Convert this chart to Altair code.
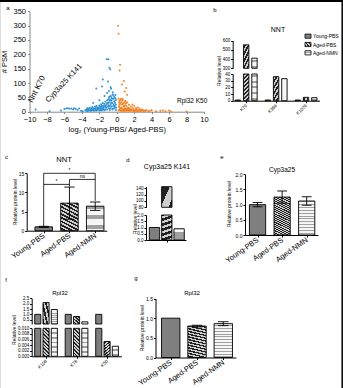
import altair as alt
import pandas as pd

W, H = 343, 388
FONT = "Liberation Sans"

# ---------------- data ----------------
treatments = ["Young-PBS", "Aged-PBS", "Aged-NMN"]

# panel a: (log2 fold change, #PSM)
blue_points = [
    (-9.3, 8), (-7.7, 2), (-6.4, 4), (-6.0, 9), (-5.8, 11), (-5.6, 12), (-5.4, 10), (-5.2, 11),
    (-5.0, 8), (-4.9, 12), (-4.7, 10), (-4.5, 6), (-4.3, 11), (-4.1, 3), (-3.9, 2),
    (-3.6, 4), (-3.5, 8), (-3.4, 12), (-3.3, 6), (-3.2, 10), (-3.1, 14), (-3.0, 8), (-2.9, 12),
    (-2.8, 16), (-2.7, 5), (-2.6, 10), (-2.5, 18), (-2.4, 13), (-2.3, 20), (-2.2, 7), (-2.1, 15),
    (-2.0, 22), (-1.9, 11), (-1.8, 26), (-1.7, 17), (-1.6, 30), (-1.5, 8), (-1.4, 22), (-1.3, 35),
    (-1.2, 14), (-1.1, 40), (-1.0, 28), (-0.9, 48), (-0.8, 20), (-0.7, 55), (-0.6, 38), (-0.5, 60),
    (-0.4, 45), (-0.3, 52), (-0.2, 30), (-0.15, 58),
    (-3.4, 2), (-3.0, 3), (-2.8, 6), (-2.6, 3), (-2.4, 5), (-2.2, 14), (-2.0, 4), (-1.9, 18),
    (-1.8, 9), (-1.7, 4), (-1.6, 13), (-1.5, 20), (-1.4, 5), (-1.3, 16), (-1.2, 26), (-1.1, 8),
    (-1.0, 18), (-1.0, 42), (-0.9, 12), (-0.9, 32), (-0.8, 38), (-0.8, 6), (-0.7, 25), (-0.7, 12),
    (-0.6, 50), (-0.6, 18), (-0.5, 30), (-0.5, 8), (-0.4, 20), (-0.4, 58), (-0.3, 12), (-0.3, 36),
    (-0.2, 48), (-0.2, 15), (-0.1, 25), (-0.1, 40), (-0.1, 6),
    (-3.2, 3), (-2.9, 7), (-2.7, 12), (-2.5, 10), (-2.3, 4), (-2.1, 9), (-1.9, 5), (-1.7, 22),
    (-1.5, 14), (-1.3, 8), (-1.1, 30), (-0.95, 22), (-0.85, 52), (-0.75, 42), (-0.65, 30),
    (-0.55, 45), (-0.45, 10), (-0.35, 25), (-0.25, 20), (-0.15, 45), (-0.05, 15), (-1.25, 20),
    (-1.45, 28), (-1.65, 9), (-1.85, 15), (-2.05, 12), (-2.25, 10), (-2.45, 8), (-2.65, 7),
    (-2.85, 4), (-3.05, 5), (-3.25, 7), (-3.45, 5),
    (-1.15, 183), (-0.95, 183), (-0.85, 153), (-0.75, 148), (-1.6, 112), (-1.0, 105), (-2.35, 81),
    (-1.7, 88), (-0.7, 85), (-0.65, 80), (-1.1, 65), (-0.9, 72), (-0.45, 68), (-1.4, 55),
    (-2.0, 40), (-2.7, 30),
]
orange_points = [
    (0.15, 300), (0.2, 272), (0.38, 164), (0.32, 144), (0.82, 107), (1.09, 83), (0.9, 70),
    (1.2, 59), (0.6, 95),
    (0.2, 45), (0.25, 20), (0.3, 38), (0.35, 8), (0.4, 30), (0.45, 42), (0.5, 15), (0.55, 35),
    (0.6, 25), (0.65, 5), (0.7, 40), (0.75, 18), (0.8, 30), (0.85, 10), (0.9, 22), (0.95, 35),
    (1.0, 12), (1.05, 28), (1.1, 20), (1.15, 6), (1.2, 32), (1.3, 15), (1.4, 24), (1.5, 10),
    (1.6, 18), (1.7, 6), (1.8, 14), (1.9, 9), (2.0, 20), (2.1, 4), (2.2, 12), (2.3, 8), (2.4, 15),
    (2.5, 5), (2.6, 10), (2.7, 3), (2.8, 8), (2.9, 4), (3.0, 6), (3.2, 3), (3.4, 5), (3.6, 2),
    (0.2, 5), (0.3, 15), (0.35, 25), (0.4, 3), (0.5, 44), (0.6, 10), (0.7, 28), (0.8, 2),
    (0.9, 8), (1.0, 38), (1.1, 3), (1.2, 10), (1.3, 4), (1.4, 8), (1.6, 3), (1.8, 25), (2.0, 2),
    (2.2, 3), (0.25, 32), (0.45, 12), (0.55, 3), (0.65, 45), (0.75, 6), (0.85, 20), (0.95, 3),
    (1.05, 10), (1.25, 5), (1.35, 12), (1.45, 3), (1.55, 7), (1.75, 4), (1.95, 3), (2.15, 6),
    (2.35, 2), (2.55, 3), (2.75, 2), (3.1, 2), (3.3, 4),
    (3.8, 3), (4.0, 5), (4.5, 2), (5.0, 3), (5.3, 4), (5.6, 2), (6.0, 4), (6.2, 1), (8.0, 1),
]

# panel b: NNT sites
b_sites = ["K70", "K394", "K1079"]
b_young = [1.0, 1.0, 1.0]
b_aged = [555, 36, 5]
b_nmn = [410, 33, 4.5]

# panel c: NNT protein
c_mean = [1.0, 7.2, 6.4]
c_err = [0.15, 4.2, 1.1]
c_br_from = [0, 1, 0]
c_br_to = [2, 2, 1]
c_br_level = [15.0, 13.4, 12.1]
c_br_label = ["*", "ns", "*"]
c_leg_pos = [0, 2, 1]
c_leg_top = [15.0, 15.0, 13.4]
c_leg_bottom = [1.2, 7.8, 11.6]

# panel d: Cyp3a25 K141
d_vals = [1.0, 145, 0.9]

# panel e: Cyp3a25 protein
e_mean = [1.0, 1.25, 1.12]
e_err = [0.07, 0.2, 0.14]

# panel f: Rpl32 sites
f_sites = ["K108", "K76", "K50"]
f_young = [1.0, 1.0, 1.0]
f_aged = [2.1, 0.8, 0.0053]
f_nmn = [1.45, 0.3, 0.0036]

# panel g: Rpl32 protein
g_mean = [1.0, 0.8, 0.86]
g_err = [0.0, 0.02, 0.05]

# ---------------- helpers ----------------
def stripes(c1, c2, n, frac, diag=False):
    stops = []
    for k in range(n):
        a = k / n
        m = (k + frac) / n
        b = (k + 1) / n
        stops += [{"offset": a, "color": c1}, {"offset": m, "color": c1},
                  {"offset": m, "color": c2}, {"offset": b, "color": c2}]
    return {"gradient": "linear", "x1": 0, "y1": 0, "x2": 1 if diag else 0, "y2": 1, "stops": stops}

YOUNG = "#7f7f7f"
CHECK = stripes("#222222", "#cfcfcf", 40, 0.5, diag=True)
STRIPE = stripes("#a0a0a0", "#f6f6f6", 22, 0.35)


def fill_enc():
    return (alt.when(alt.datum.treatment == "Aged-PBS").then(alt.value(CHECK))
            .when(alt.datum.treatment == "Aged-NMN").then(alt.value(STRIPE))
            .otherwise(alt.value(YOUNG)))


def xs(field, dom, rng, axis=None):
    return alt.X(field, type="quantitative",
                 scale=alt.Scale(domain=dom, range=rng, nice=False, zero=False), axis=axis)


def ys(field, dom, rng, axis=None, clamp=False):
    return alt.Y(field, type="quantitative",
                 scale=alt.Scale(domain=dom, range=rng, nice=False, zero=False, clamp=clamp), axis=axis)


def left_axis(x_px, values, fmt=None, size=5, color="black", title=None, **kw):
    d = dict(orient="left", offset=-x_px, values=values, grid=False, labelFontSize=size,
             labelFont=FONT, labelColor="black", tickSize=2, tickColor=color, domainColor=color,
             labelPadding=1, labelFlush=False, labelOverlap=False, title=title,
             titleFont=FONT, titleFontSize=size, titleFontWeight="normal", titleColor="black")
    if fmt:
        d["format"] = fmt
    d.update(kw)
    return alt.Axis(**d)


def bottom_axis(y_px, values, names=None, size=5, angle=0, color="black", title=None, labels=True, **kw):
    d = dict(orient="bottom", offset=y_px - H, values=values, grid=False, labelFontSize=size,
             labelFont=FONT, labelColor="black", tickSize=2, tickColor=color, domainColor=color,
             labelPadding=2, labelFlush=False, labelOverlap=False, title=title, labels=labels,
             titleFont=FONT, titleFontSize=size, titleFontWeight="normal", titleColor="black")
    if names is not None:
        d["labelExpr"] = "[" + ",".join("'%s'" % n for n in names) + "][datum.value]"
    if angle:
        d["labelAngle"] = angle
        d["labelAlign"] = "right"
        d["labelBaseline"] = "middle"
    d.update(kw)
    return alt.Axis(**d)


one = pd.DataFrame({"k": [0]})


def txt(s, x, y, size=6, angle=0, align="center", baseline="middle"):
    kw = dict(text=s, fontSize=size, font=FONT, align=align, baseline=baseline, color="black")
    if angle:
        kw["angle"] = angle
    return alt.Chart(one).mark_text(**kw).encode(x=alt.value(x), y=alt.value(y))


def simple_df(means, errs):
    return pd.DataFrame({"treatment": treatments, "i": [0, 1, 2], "mean": means, "err": errs})


def grouped_df(young, aged, nmn):
    rows = []
    for g in range(3):
        for t, vals in enumerate([young, aged, nmn]):
            rows.append({"treatment": treatments[t], "g": g, "t": t, "mean": vals[g]})
    return pd.DataFrame(rows)


def bars(df, xdom, xrng, ydom, yrng, xpos, hw, clamp=False, xaxis=None, yaxis=None, keep=None):
    ch = alt.Chart(df)
    if keep:
        ch = ch.transform_filter(keep)
    ch = ch.transform_calculate(xl=f"{xpos} - {hw}", xr=f"{xpos} + {hw}", base="0")
    return ch.mark_rect(stroke="black", strokeWidth=0.9).encode(
        x=xs("xl", xdom, xrng, xaxis), x2="xr:Q",
        y=ys("mean", ydom, yrng, yaxis, clamp), y2="base:Q", fill=fill_enc())


def errbars(df, xdom, xrng, ydom, yrng, cap):
    base = alt.Chart(df).transform_filter("datum.err > 0").transform_calculate(
        lo="datum.mean - datum.err", hi="datum.mean + datum.err",
        cl=f"datum.i - {cap}", cr=f"datum.i + {cap}")
    v = base.mark_rule(color="black", strokeWidth=0.9).encode(
        x=xs("i", xdom, xrng), y=ys("lo", ydom, yrng), y2="hi:Q")
    t = base.mark_rule(color="black", strokeWidth=0.9).encode(
        x=xs("cl", xdom, xrng), x2="cr:Q", y=ys("hi", ydom, yrng))
    b = base.mark_rule(color="black", strokeWidth=0.9).encode(
        x=xs("cl", xdom, xrng), x2="cr:Q", y=ys("lo", ydom, yrng))
    return [v, t, b]


layers = []

# ---------------- panel a ----------------
A_XD, A_XR = [-10, 10], [29.5, 204]
A_YD, A_YR = [0, 350], [111.7, 11.3]
blue_df = pd.DataFrame(blue_points, columns=["lfc", "psm"])
orange_df = pd.DataFrame(orange_points, columns=["lfc", "psm"])
ax_a_x = bottom_axis(111.7, list(range(-10, 11, 2)), size=7.5, color="#888",
                     title="log₂ (Young-PBS/ Aged-PBS)", titlePadding=2, labelPadding=2)
ax_a_y = left_axis(29.5, list(range(0, 351, 50)), size=7.5, color="#888", title="# PSM",
                   titlePadding=4, labelPadding=2)
layers.append(alt.Chart(blue_df).mark_circle(size=4, opacity=1, color="#2f93d4").encode(
    x=xs("lfc", A_XD, A_XR, ax_a_x), y=ys("psm", A_YD, A_YR, ax_a_y)))
layers.append(alt.Chart(orange_df).mark_circle(size=4, opacity=1, color="#f47f1f").encode(
    x=xs("lfc", A_XD, A_XR), y=ys("psm", A_YD, A_YR)))
layers += [
    txt("a", 8, 8, size=6),
    txt("Nnt K70", 34, 104, size=8, angle=297, align="left", baseline="bottom"),
    txt("Cyp3a25 K141", 50, 104, size=7.5, angle=313, align="left", baseline="bottom"),
    txt("Rpl32 K50", 177, 101, size=6.5, align="left", baseline="middle"),
]

# ---------------- panel b ----------------
b_df = grouped_df(b_young, b_aged, b_nmn)
B_XD, B_XR = [-0.45, 2.45], [232.7, 319.5]
bpos = "datum.g + (datum.t - 1) * 0.277"
layers.append(bars(b_df, B_XD, B_XR, [300, 600], [68.3, 40.7], bpos, 0.09, clamp=True,
                   yaxis=left_axis(232.7, [300, 400, 500, 600], size=4.5), keep="datum.mean > 300"))
layers.append(bars(b_df, B_XD, B_XR, [0, 40], [100.7, 74], bpos, 0.09, clamp=True,
                   xaxis=bottom_axis(100.7, [0, 1, 2], b_sites, size=4.5, angle=-45),
                   yaxis=left_axis(232.7, [0, 10, 20, 30, 40], size=4.5)))
legend_df = pd.DataFrame({"treatment": treatments})
leg_scale = alt.Scale(domain=treatments, range=[32, 57], paddingInner=0.5, paddingOuter=0.25)
layers.append(alt.Chart(legend_df).mark_rect(stroke="black", strokeWidth=0.8).encode(
    x=alt.value(305), x2=alt.value(311),
    y=alt.Y("treatment:N", scale=leg_scale, axis=None), fill=fill_enc()))
layers.append(alt.Chart(legend_df).mark_text(font=FONT, fontSize=5, align="left", baseline="middle",
                                             color="black").encode(
    x=alt.value(313), y=alt.Y("treatment:N", scale=leg_scale, axis=None), text="treatment:N"))
layers += [
    txt("b", 215, 10, size=6),
    txt("NNT", 278, 30, size=7),
    txt("Relative level", 219, 71, size=5, angle=270),
]

# ---------------- panel c ----------------
c_df = simple_df(c_mean, c_err)
C_XD, C_XR = [-0.66, 2.45], [26.7, 106.8]
C_YD, C_YR = [0, 15], [230.7, 173.3]
layers.append(bars(c_df, C_XD, C_XR, C_YD, C_YR, "datum.i", 0.34,
                   xaxis=bottom_axis(230.7, [0, 1, 2], treatments, size=7.5, angle=-35),
                   yaxis=left_axis(26.7, [0, 5, 10, 15], size=5)))
layers += errbars(c_df, C_XD, C_XR, C_YD, C_YR, 0.2)
br_df = pd.DataFrame({"a": c_br_from, "b": c_br_to, "lvl": c_br_level, "lab": c_br_label})
leg_df = pd.DataFrame({"p": c_leg_pos, "top": c_leg_top, "bot": c_leg_bottom})
layers.append(alt.Chart(br_df).mark_rule(color="black", strokeWidth=0.8).encode(
    x=xs("a", C_XD, C_XR), x2="b:Q", y=ys("lvl", C_YD, C_YR)))
layers.append(alt.Chart(leg_df).mark_rule(color="black", strokeWidth=0.8).encode(
    x=xs("p", C_XD, C_XR), y=ys("top", C_YD, C_YR), y2="bot:Q"))
layers.append(alt.Chart(br_df).transform_calculate(mid="(datum.a + datum.b) / 2").mark_text(
    font=FONT, fontSize=5, baseline="bottom", dy=-0.5, color="black").encode(
    x=xs("mid", C_XD, C_XR), y=ys("lvl", C_YD, C_YR), text="lab:N"))
layers += [
    txt("c", 6.5, 157, size=6),
    txt("NNT", 64, 160, size=7.5),
    txt("Relative protein level", 15, 202, size=5, angle=270),
]

# ---------------- panel d ----------------
d_df = simple_df(d_vals, [0, 0, 0])
D_XD, D_XR = [-0.69, 2.56], [146, 186]
layers.append(bars(d_df, D_XD, D_XR, [80, 145], [207.3, 186.7], "datum.i", 0.42, clamp=True,
                   yaxis=left_axis(146, [80, 100, 120, 140], size=4.5), keep="datum.mean > 80"))
layers.append(bars(d_df, D_XD, D_XR, [0, 2], [240, 215], "datum.i", 0.42, clamp=True,
                   xaxis=bottom_axis(240, [1], labels=False),
                   yaxis=left_axis(146, [0, 0.5, 1.0, 1.5, 2.0], fmt=".1f", size=4.5)))
layers += [
    txt("d", 128, 160, size=6),
    txt("Cyp3a25 K141", 167, 167, size=7),
    txt("Relative level", 134.5, 219, size=5, angle=270),
]

# ---------------- panel e ----------------
e_df = simple_df(e_mean, e_err)
E_XD, E_XR = [-0.51, 2.46], [245, 318]
E_YD, E_YR = [0, 2], [235, 174.3]
layers.append(bars(e_df, E_XD, E_XR, E_YD, E_YR, "datum.i", 0.33,
                   xaxis=bottom_axis(235, [0, 1, 2], treatments, size=7.5, angle=-35),
                   yaxis=left_axis(245, [0, 0.5, 1.0, 1.5, 2.0], fmt=".1f", size=5)))
layers += errbars(e_df, E_XD, E_XR, E_YD, E_YR, 0.2)
layers += [
    txt("e", 222, 157, size=6),
    txt("Cyp3a25", 282, 170, size=6.5),
    txt("Relative protein level", 229, 204, size=5, angle=270),
]

# ---------------- panel f ----------------
f_df = grouped_df(f_young, f_aged, f_nmn)
F_XD, F_XR = [-0.47, 2.47], [31.7, 121.4]
fpos = "datum.g + (datum.t - 1) * 0.272"
layers.append(bars(f_df, F_XD, F_XR, [0.1, 2.5], [324, 298.3], fpos, 0.1, clamp=True,
                   yaxis=left_axis(31.7, [0.5, 1.0, 1.5, 2.0, 2.5], fmt=".1f", size=4.5),
                   keep="datum.mean > 0.1"))
layers.append(bars(f_df, F_XD, F_XR, [0, 0.010], [356.3, 328.3], fpos, 0.1, clamp=True,
                   xaxis=bottom_axis(356.3, [0, 1, 2], f_sites, size=4.5, angle=-45),
                   yaxis=left_axis(31.7, [0, 0.002, 0.004, 0.006, 0.008, 0.010], fmt=".3f", size=4.5)))
layers += [
    txt("f", 6, 280, size=6),
    txt("Rpl32", 60, 293, size=6),
    txt("Relative level", 14, 330, size=5, angle=270),
]

# ---------------- panel g ----------------
g_df = simple_df(g_mean, g_err)
G_XD, G_XR = [-0.58, 2.48], [155.5, 235.9]
G_YD, G_YR = [0, 1.5], [357.5, 298.5]
layers.append(bars(g_df, G_XD, G_XR, G_YD, G_YR, "datum.i", 0.35,
                   xaxis=bottom_axis(357.5, [0, 1, 2], treatments, size=7.5, angle=-35),
                   yaxis=left_axis(155.5, [0, 0.5, 1.0, 1.5], fmt=".1f", size=5)))
layers += errbars(g_df, G_XD, G_XR, G_YD, G_YR, 0.2)
layers += [
    txt("g", 136, 278, size=6),
    txt("Rpl32", 192, 293, size=6),
    txt("Relative protein level", 142, 328, size=5, angle=270),
]

# ---------------- frame ----------------
layers.append(alt.Chart(one).mark_rule(color="black", strokeWidth=2).encode(
    x=alt.value(0), x2=alt.value(W), y=alt.value(1)))
layers.append(alt.Chart(one).mark_rule(color="black", strokeWidth=1.5).encode(
    x=alt.value(342.2), y=alt.value(0), y2=alt.value(H)))

chart = (alt.layer(*layers)
         .resolve_scale(x="independent", y="independent")
         .properties(width=W, height=H, padding=0, background="white",
                     autosize=alt.AutoSizeParams(type="none"))
         .configure_view(strokeWidth=0)
         .configure(font=FONT))

chart.save("out.html", embed_options={"renderer": "svg", "actions": False})
